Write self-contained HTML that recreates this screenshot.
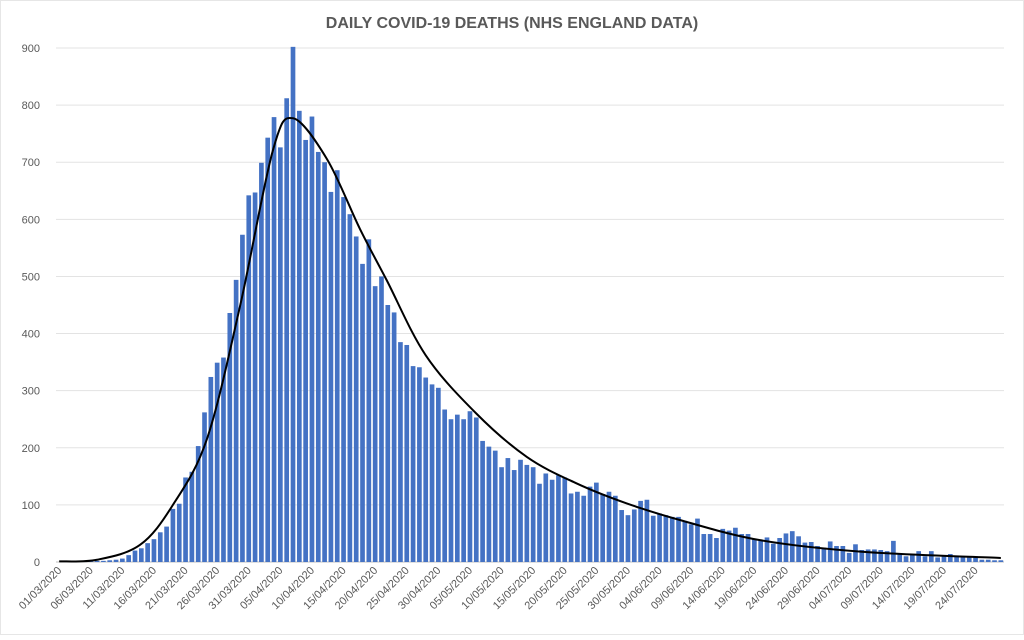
<!DOCTYPE html>
<html><head><meta charset="utf-8"><style>
body{margin:0;background:#fff;}
svg text{font-family:"Liberation Sans",sans-serif;fill:#595959;}
</style></head><body>
<svg id="chart" width="1024" height="635" viewBox="0 0 1024 635" xmlns="http://www.w3.org/2000/svg">
<rect x="0.5" y="0.5" width="1023" height="634" fill="#fff" stroke="#e6e6e6"/>
<text x="512" y="28" text-anchor="middle" font-size="16" font-weight="bold">DAILY COVID-19 DEATHS (NHS ENGLAND DATA)</text>
<g id="grid"></g><g id="bars"></g><g id="trend"></g><g id="yaxis"></g><g id="xaxis"></g>
</svg>
<script>
const deaths = [0,0,0,1,1,1,2,2,3,4,
6,12,20,24,33,40,52,62,93,102,148,158,203,262,324,349,358,436,494,573,642,647,699,743,779,726,812,902,790,739,780,
718,700,648,686,
639,609,570,522,565,483,500,450,437,385,380,343,341,323,311,305,267,250,258,250,264,253,212,202,195,166,182,161,179,170,166,137,155,144,152,148,120,123,116,132,139,119,123,116,91,82,92,107,109,81,85,82,79,
79,72,66,76,49,49,42,58,55,60,49,49,41,39,43,32,42,50,54,45,34,35,28,25,36,28,28,16,31,21,22,22,21,19,37,14,10,12,19,10,19,8,11,14,9,9,9,10,4,4,3,3];
const trendDays = [0,6,12.8,18,23.4,28.6,33.8,37,42.4,47.6,51.8,58,66,74,81.8,89.7,98.7,111,127,149];
const trendVals = [1,4,30,100,216,447,720,777,705,583,494,362,260,184,138,103,72,38,18,7];
const yTicks = [0,100,200,300,400,500,600,700,800,900];
const xLabels = ["01/03/2020","06/03/2020","11/03/2020","16/03/2020","21/03/2020","26/03/2020","31/03/2020","05/04/2020","10/04/2020","15/04/2020","20/04/2020","25/04/2020","30/04/2020","05/05/2020","10/05/2020","15/05/2020","20/05/2020","25/05/2020","30/05/2020","04/06/2020","09/06/2020","14/06/2020","19/06/2020","24/06/2020","29/06/2020","04/07/2020","09/07/2020","14/07/2020","19/07/2020","24/07/2020"];

const NS="http://www.w3.org/2000/svg";
const X0=56, X1=1004, Y0=562, Y1=48, YMAX=900, N=150;
const band=(X1-X0)/N;
const xc=i=>X0+band*(i+0.5);
const ys=v=>Y0-(v/YMAX)*(Y0-Y1);
function mk(tag,attrs,parent){const e=document.createElementNS(NS,tag);for(const k in attrs)e.setAttribute(k,attrs[k]);parent.appendChild(e);return e;}
const G=id=>document.getElementById(id);

yTicks.forEach(t=>{
  const l=mk('line',{x1:X0,x2:X1,y1:ys(t),y2:ys(t),stroke:t===0?'#bfbfbf':'#e3e3e3','stroke-width':1},G('grid'));
  
  
  const tx=mk('text',{x:40,y:ys(t)+4,'text-anchor':'end','font-size':11},G('yaxis'));
  tx.textContent=t;
  
  
});
deaths.forEach((v,i)=>{
  const bw=band*0.74;
  const r=mk('rect',{x:xc(i)-bw/2,y:ys(v),width:bw,height:Y0-ys(v),fill:'#4472C4'},G('bars'));
  
  
});
const pts=trendDays.map((d,i)=>[xc(d),ys(trendVals[i])]);
let d='M'+pts[0][0]+','+pts[0][1];
for(let i=0;i<pts.length-1;i++){
  const p0=pts[Math.max(0,i-1)],p1=pts[i],p2=pts[i+1],p3=pts[Math.min(pts.length-1,i+2)];
  const c1=[p1[0]+(p2[0]-p0[0])/6,p1[1]+(p2[1]-p0[1])/6];
  const c2=[p2[0]-(p3[0]-p1[0])/6,p2[1]-(p3[1]-p1[1])/6];
  d+=` C${c1[0]},${c1[1]} ${c2[0]},${c2[1]} ${p2[0]},${p2[1]}`;
}
const tp=mk('path',{d:d,fill:'none',stroke:'#000','stroke-width':2},G('trend'));


xLabels.forEach((lab,k)=>{
  const x=xc(k*5)+3, y=Y0+9;
  const t=mk('text',{x:x,y:y,'text-anchor':'end','font-size':11,transform:`rotate(-45 ${x} ${y})`},G('xaxis'));
  t.textContent=lab;
  
  
});
</script>
</body></html>
